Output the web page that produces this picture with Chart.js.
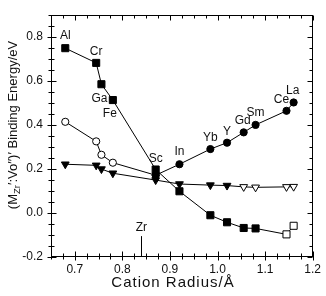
<!DOCTYPE html>
<html><head><meta charset="utf-8">
<script src="https://cdn.jsdelivr.net/npm/chart.js@4/dist/chart.umd.min.js"></script>
<style>html,body{margin:0;padding:0;background:#fff}#wrap{width:326px;height:296px;position:relative}canvas{display:block}</style>
</head><body><div id="wrap"><canvas id="c" width="326" height="296" style="width:326px;height:296px"></canvas></div>
<script>
// ---- data ----
const elements = ['Al','Cr','Ga','Fe','Sc','In','Yb','Y','Gd','Sm','Ce','La'];
const cationRadius = [0.68,0.745,0.756,0.78,0.87,0.92,0.985,1.02,1.055,1.08,1.145,1.16];
const squareEnergy = [0.75,0.683,0.586,0.514,0.198,0.099,-0.01,-0.042,-0.068,-0.07,-0.097,-0.058];
const squareOpen = [false,false,false,false,false,false,false,false,false,false,true,true];
const circleRadius = [0.87,0.92,0.985,1.02,1.055,1.08,1.145,1.16];
const circleEnergy = [0.172,0.222,0.291,0.32,0.367,0.401,0.465,0.503];
const openCircleRadius = [0.68,0.745,0.756,0.78,0.87];
const openCircleEnergy = [0.415,0.326,0.265,0.229,0.172];
const openCircleOpen = [true,true,true,true,false];
const triangleEnergy = [0.222,0.217,0.2,0.181,0.15,0.132,0.127,0.125,0.119,0.117,0.119,0.12];
const triangleOpen = [false,false,false,false,false,false,false,false,true,true,true,true];
const xTickValues = [0.7,0.8,0.9,1.0,1.1,1.2];
const yTickValues = [-0.2,0.0,0.2,0.4,0.6,0.8];
const zrLabel = 'Zr';
const zrRadius = 0.84;
const zrLineTop = -0.105;

// ---- helpers ----
const pts = (xs, ys) => xs.map((x, i) => ({x, y: ys[i]}));
const fills = arr => arr.map(o => o ? '#ffffff' : '#000000');

const labelStyle = {
  Al:{s:'sq',dx:0,dy:-12}, Cr:{s:'sq',dx:0,dy:-11}, Ga:{s:'sq',dx:-2,dy:14}, Fe:{s:'sq',dx:-3,dy:14},
  Sc:{s:'sq',dx:0,dy:-11}, In:{s:'ci',dx:0,dy:-13}, Yb:{s:'ci',dx:0,dy:-11.5}, Y:{s:'ci',dx:0,dy:-11.5},
  Gd:{s:'ci',dx:-1,dy:-12}, Sm:{s:'ci',dx:0,dy:-12}, Ce:{s:'ci',dx:-5,dy:-11}, La:{s:'ci',dx:-1,dy:-12}
};

const FONT = '"Liberation Sans", Arial, Helvetica, sans-serif';

const decor = {
  id: 'decor',
  afterDraw(chart) {
    const ctx = chart.ctx, a = chart.chartArea;
    const xs = chart.scales.x, ys = chart.scales.y;
    ctx.save();
    ctx.strokeStyle = '#000'; ctx.lineWidth = 1;
    const L = Math.round(a.left)+0.5, R = Math.round(a.right)-0.5, T = Math.round(a.top)+0.5, B = Math.round(a.bottom)-0.5;
    ctx.strokeRect(L, T, R-L, B-T);
    ctx.beginPath();
    for (let k = 0; k <= 22; k++) {
      const v = 0.65 + k*0.025;
      const major = Math.abs(v*10 - Math.round(v*10)) < 1e-6;
      const px = Math.round(xs.getPixelForValue(v)) + 0.5;
      const up = major ? 5 : 3, dn = major ? 4 : 3;
      ctx.moveTo(px, B - up); ctx.lineTo(px, B + dn);
      ctx.moveTo(px, T); ctx.lineTo(px, T + (major ? 5 : 3));
    }
    for (let k = 0; k <= 22; k++) {
      const v = -0.2 + k*0.05;
      const major = Math.abs(v*5 - Math.round(v*5)) < 1e-6;
      const py = Math.round(ys.getPixelForValue(v)) + 0.5;
      const out = major ? 4 : 3, inn = major ? 5 : 3;
      ctx.moveTo(L - out, py); ctx.lineTo(L + inn, py);
      ctx.moveTo(R, py); ctx.lineTo(R - (major ? 5 : 3), py);
    }
    const zx = Math.round(xs.getPixelForValue(zrRadius)) + 0.5;
    ctx.moveTo(zx, ys.getPixelForValue(zrLineTop)); ctx.lineTo(zx, B);
    ctx.stroke();

    ctx.fillStyle = '#111';
    ctx.font = '12px ' + FONT;
    ctx.textAlign = 'center'; ctx.textBaseline = 'middle';
    elements.forEach((el, i) => {
      const st = labelStyle[el];
      let x = cationRadius[i], y;
      if (st.s === 'sq') y = squareEnergy[i];
      else { const j = circleRadius.indexOf(x); y = circleEnergy[j]; }
      ctx.fillText(el, xs.getPixelForValue(x) + st.dx, ys.getPixelForValue(y) + st.dy);
    });
    ctx.fillText(zrLabel, xs.getPixelForValue(zrRadius), ys.getPixelForValue(zrLineTop) - 8);

    ctx.font = '15px ' + FONT;
    try { ctx.letterSpacing = '1px'; } catch(e) {}
    ctx.fillText('Cation Radius/\u00C5', 173, 283);
    try { ctx.letterSpacing = '0px'; } catch(e) {}

    ctx.translate(13, 125);
    ctx.rotate(-Math.PI/2);
    ctx.textAlign = 'left'; ctx.textBaseline = 'middle';
    const parts = [
      {t:'(M', f:13, dy:0},
      {t:'Zr', f:9.5, dy:4},
      {t:'\u2032:Vo\u2032\u2032)\u2032 Binding Energy/eV', f:13, dy:0}
    ];
    let total = 0;
    parts.forEach(p => { ctx.font = p.f + 'px ' + FONT; p.w = ctx.measureText(p.t).width; total += p.w; });
    let cx = -total/2;
    parts.forEach(p => { ctx.font = p.f + 'px ' + FONT; ctx.fillText(p.t, cx, p.dy); cx += p.w; });
    ctx.restore();
  }
};

const common = { showLine: true, borderColor: '#000', borderWidth: 1, pointBorderColor: '#000', pointBorderWidth: 1, tension: 0, clip: false };

new Chart(document.getElementById('c'), {
  type: 'scatter',
  data: {
    datasets: [
      Object.assign({}, common, { label: 'square', data: pts(cationRadius, squareEnergy), pointStyle: 'rect', pointRadius: 5, pointBackgroundColor: fills(squareOpen) }),
      Object.assign({}, common, { label: 'circle', data: pts(circleRadius, circleEnergy), pointStyle: 'circle', pointRadius: 3.6, pointBackgroundColor: '#000' }),
      Object.assign({}, common, { label: 'openCircle', data: pts(openCircleRadius, openCircleEnergy), pointStyle: 'circle', pointRadius: 3.6, pointBackgroundColor: fills(openCircleOpen) }),
      Object.assign({}, common, { label: 'triangle', data: pts(cationRadius, triangleEnergy), pointStyle: 'triangle', pointRotation: 180, pointRadius: 4.5, pointBackgroundColor: fills(triangleOpen) })
    ]
  },
  options: {
    responsive: false, animation: false, devicePixelRatio: 1,
    layout: { padding: { top: 4, right: 11, left: 0, bottom: 0 } },
    plugins: { legend: { display: false }, tooltip: { enabled: false } },
    elements: { point: { hoverRadius: 0 } },
    scales: {
      x: {
        type: 'linear', min: 0.65, max: 1.2,
        afterBuildTicks: s => { s.ticks = xTickValues.map(v => ({value: v})); },
        afterFit: s => { s.height = 39; },
        grid: { display: false, drawTicks: false }, border: { display: false },
        ticks: { font: { size: 12, family: FONT }, color: '#111', padding: 5, maxRotation: 0, autoSkip: false, callback: v => Number(v).toFixed(1) }
      },
      y: {
        type: 'linear', min: -0.2, max: 0.9,
        afterBuildTicks: s => { s.ticks = yTickValues.map(v => ({value: v})); },
        afterFit: s => { s.width = 51; },
        grid: { display: false, drawTicks: false }, border: { display: false },
        ticks: { font: { size: 12, family: FONT }, color: '#111', padding: 8, autoSkip: false, callback: v => Number(v).toFixed(1) }
      }
    }
  },
  plugins: [decor]
});
</script>
</body></html>
